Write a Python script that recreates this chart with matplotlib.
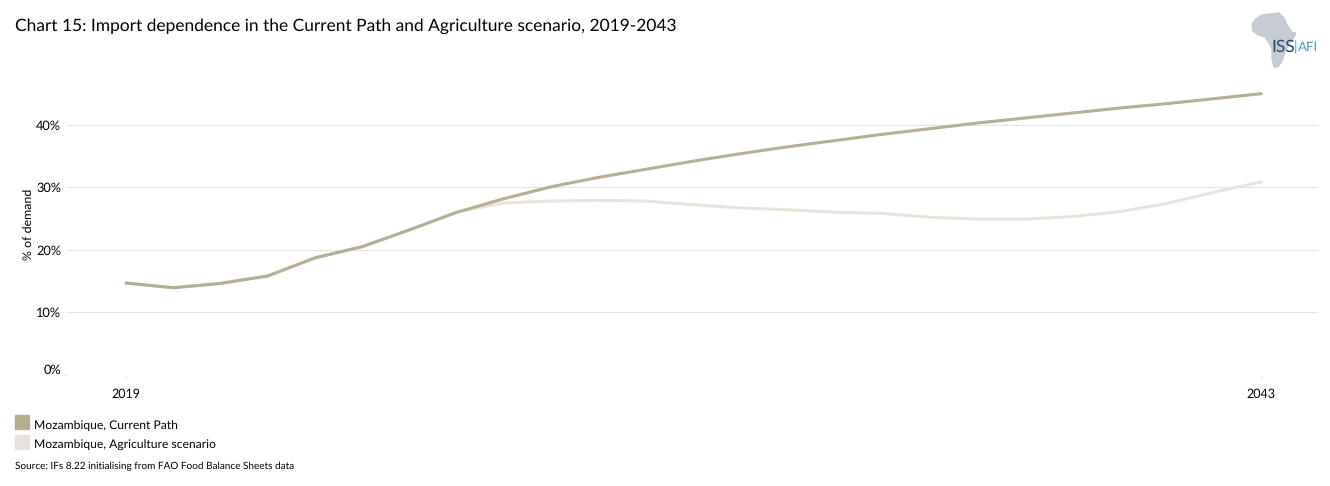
import numpy as np
import matplotlib
matplotlib.use("Agg")
import matplotlib.pyplot as plt
from matplotlib.patches import Polygon, Rectangle

plt.rcParams['font.family'] = ['Lato', 'DejaVu Sans']
plt.rcParams['text.hinting'] = 'no_hinting'

#%% Data

years = np.arange(2019, 2044)
current_path = [14.66, 13.9, 14.6, 15.8, 18.7, 20.5, 23.2, 26.0, 28.2, 30.1, 31.6, 32.9, 34.2,
                35.4, 36.5, 37.5, 38.5, 39.4, 40.3, 41.1, 41.9, 42.7, 43.4, 44.2, 45.0]
agriculture = [14.66, 13.9, 14.6, 15.8, 18.7, 20.5, 23.2, 26.1, 27.5, 27.8, 27.9, 27.8, 27.2,
               26.7, 26.4, 26.0, 25.8, 25.2, 24.9, 24.9, 25.3, 26.1, 27.4, 29.2, 30.85]
y_ticks = [0, 10, 20, 30, 40]
x_ticks = [2019, 2043]

col_cp = '#b5ae93'
col_ag = '#e6e4da'
W, H = 1330, 486

#%% Figure, axes placed in pixels

fig = plt.figure(figsize=(W/100, H/100), dpi=100)
left, right, top, bottom = 67, 1318, 62, 374.5
ax = fig.add_axes([left/W, 1-bottom/H, (right-left)/W, (bottom-top)/H])

ax.plot(years, agriculture, color=col_ag, lw=2.2, solid_capstyle='round', zorder=3)
ax.plot(years, current_path, color=col_cp, lw=2.2, solid_capstyle='round', zorder=4)

# 47.3 px per year, 6.24 px per percent
ax.set_xlim(2019-(126-left)/47.3, 2019+(right-126)/47.3)
ax.set_ylim(0, (bottom-top)/6.24)
ax.set_xticks(x_ticks)
ax.set_yticks(y_ticks)
ax.set_yticklabels([])
ax.tick_params(axis='x', length=3, width=0.8, color='#ececec', pad=7, labelsize=9)
ax.tick_params(axis='y', length=4, width=0.8, color='#ececec')
ax.grid(axis='y', color='#e4e4e4', lw=0.8)
ax.set_axisbelow(True)
for s in ax.spines.values():
    s.set_visible(False)

# only the 0% tick has a dash and no grid line, the others only a grid line
for i, tk in enumerate(ax.yaxis.get_major_ticks()):
    if i == 0:
        tk.gridline.set_visible(False)
    else:
        tk.tick1line.set_visible(False)

for v, py in zip(y_ticks, [370, 313.5, 251.5, 188.5, 126.5]):
    fig.text(61/W, 1-py/H, f'{v}%', ha='right', va='center', fontsize=9.2)

fig.text(29/W, 1-224/H, '% of demand', rotation=90, ha='center', va='center', fontsize=8.9)
fig.text(15/W, 1-26/H, 'Chart 15: Import dependence in the Current Path and Agriculture scenario, 2019-2043',
         ha='left', va='center', fontsize=12.55)

#%% Legend and source

fig.add_artist(Rectangle((15/W, 1-429/H), 14/W, 14/H, color=col_cp, transform=fig.transFigure))
fig.add_artist(Rectangle((15/W, 1-449/H), 14/W, 14/H, color=col_ag, transform=fig.transFigure))
fig.text(34/W, 1-425.5/H, 'Mozambique, Current Path', va='center', fontsize=8.7)
fig.text(34/W, 1-445.5/H, 'Mozambique, Agriculture scenario', va='center', fontsize=8.7)
fig.text(15/W, 1-466/H, 'Source: IFs 8.22 initialising from FAO Food Balance Sheets data', va='center', fontsize=7.17)

#%% Logo

africa = [(1262, 15), (1270, 14), (1279, 13), (1284, 18), (1287, 25), (1292, 32), (1296, 33),
          (1293, 39), (1288, 45), (1285, 52), (1282, 61), (1278, 67), (1274, 67), (1272, 58),
          (1272, 50), (1269, 43), (1265, 37), (1258, 35), (1253, 31), (1252, 24), (1256, 19)]
fig.add_artist(Polygon([(x/W, 1-y/H) for x, y in africa], closed=True, color='#c6cbd4',
                       transform=fig.transFigure))
fig.text(1271.5/W, 1-47/H, 'ISS', color='#27496d', fontsize=12.5, va='center')
fig.text(1295.5/W, 1-47/H, '|', color='#5ba3cf', fontsize=10, va='center', ha='center')
fig.text(1298/W, 1-47/H, 'AFI', color='#4a97c9', fontsize=9.5, va='center')

fig.savefig('out.png', dpi=100)
